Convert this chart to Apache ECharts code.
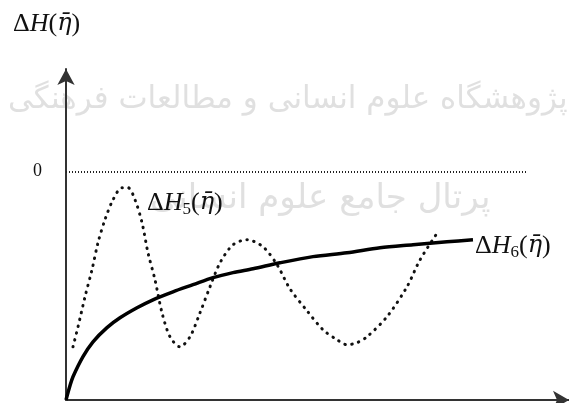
<!DOCTYPE html>
<html>
<head>
<meta charset="utf-8">
<script src="https://cdn.jsdelivr.net/npm/echarts@6/dist/echarts.min.js"></script>
<style>
    html, body { margin: 0; padding: 0; background: #fff; }
    #chart { width: 569px; height: 403px; }
</style>
</head>
<body>
<div id="chart"></div>
<script>
// ΔH5 点线（振荡曲线）
const h5Data = [
    [1.39, -76.7], [2.39, -67.9], [3.78, -54.8], [5.17, -42.9], [6.36, -31.1],
    [7.75, -21.0], [9.34, -12.3], [11.13, -7.0], [12.33, -7.0], [13.72, -12.3],
    [15.11, -22.3], [16.3, -35.5], [17.69, -47.3], [19.09, -61.8], [20.68, -72.3],
    [22.66, -76.7], [24.65, -72.3], [26.64, -61.8], [28.63, -50.4], [30.62, -39.9],
    [33.2, -32.0], [35.98, -29.8], [39.17, -32.9], [41.95, -40.7], [44.53, -51.3],
    [47.91, -60.9], [51.09, -69.2], [53.88, -73.6], [55.86, -75.8], [57.85, -74.9],
    [59.84, -72.3], [63.82, -63.5], [67.79, -50.4], [70.38, -38.6], [73.96, -26.3]
];
// ΔH6 实线
const h6Data = [
    [0, -100], [0.8, -93.7], [1.39, -89.8], [3.38, -81.0], [5.37, -74.5],
    [8.15, -68.3], [10.74, -64.0], [14.12, -59.6], [17.3, -56.1], [21.27, -52.6],
    [25.25, -49.5], [29.22, -46.4], [33.2, -44.2], [37.18, -42.5], [42.54, -39.9],
    [49.11, -37.2], [55.86, -35.5], [62.43, -33.3], [68.99, -32.0], [75.75, -30.7],
    [80.91, -29.8]
];
const zeroLineEnd = 91.6;
const h5LabelAt = [16.1, -13.6];
const watermark1 = 'پژوهشگاه علوم انسانی و مطالعات فرهنگی';
const watermark2 = 'پرتال جامع علوم انسانی';

const serif = '"Liberation Serif", "DejaVu Serif", serif';
// 公式文字样式
const rich = {
    d: { fontFamily: serif, fontSize: 26, fontWeight: 'normal', color: '#111' },
    i: { fontFamily: serif, fontSize: 26, fontWeight: 'normal', fontStyle: 'italic', color: '#111' },
    e: { fontFamily: '"DejaVu Serif", serif', fontSize: 24, fontWeight: 'normal', fontStyle: 'italic', color: '#111' },
    s: { fontFamily: serif, fontSize: 17, fontWeight: 'normal', color: '#111', padding: [14, 0, 0, 0] },
    p: { fontFamily: serif, fontSize: 26, fontWeight: 'normal', color: '#111' }
};
function formula(sub) {
    return '{d|Δ}{i|H}' + (sub ? '{s|' + sub + '}' : '') + '{p|(}{e|η\u0304}{p|)}';
}

const chart = echarts.init(document.getElementById('chart'));
const option = {
    animation: false,
    backgroundColor: '#fff',
    title: {
        text: formula(''),
        left: 8,
        top: 6,
        textStyle: { fontWeight: 'normal', rich: rich }
    },
    grid: { left: 66, right: 0, top: 69, bottom: 3 },
    xAxis: {
        type: 'value',
        min: 0,
        max: 100,
        axisLine: {
            show: true,
            onZero: false,
            symbol: ['none', 'arrow'],
            symbolSize: [14, 16],
            lineStyle: { color: '#333', width: 2 }
        },
        axisTick: { show: false },
        axisLabel: { show: false },
        splitLine: { show: false }
    },
    yAxis: {
        type: 'value',
        min: -100,
        max: 45,
        interval: 5,
        axisLine: {
            show: true,
            onZero: false,
            symbol: ['none', 'arrow'],
            symbolSize: [13, 16],
            lineStyle: { color: '#333', width: 2 }
        },
        axisTick: { show: false },
        splitLine: { show: false },
        axisLabel: {
            margin: 24,
            fontFamily: serif,
            fontSize: 18,
            color: '#111',
            formatter: (v) => (v === 0 ? '0' : '')
        }
    },
    graphic: [
        {
            type: 'text',
            left: 8,
            top: 84,
            silent: true,
            z: -1,
            style: {
                text: watermark1,
                font: '31px "DejaVu Sans", sans-serif',
                fill: '#e0e0e0'
            }
        },
        {
            type: 'text',
            left: 150,
            top: 182,
            silent: true,
            z: -1,
            style: {
                text: watermark2,
                font: '34px "DejaVu Sans", sans-serif',
                fill: '#e0e0e0'
            }
        }
    ],
    series: [
        {
            name: 'ΔH5',
            type: 'line',
            data: h5Data,
            smooth: 0.3,
            showSymbol: false,
            lineStyle: { color: '#111', width: 3, type: [0.5, 6.5], cap: 'round' },
            markLine: {
                silent: true,
                symbol: 'none',
                label: { show: false },
                lineStyle: { color: '#222', width: 2, type: [1, 2] },
                data: [[{ coord: [0, 0] }, { coord: [zeroLineEnd, 0] }]]
            },
            markPoint: {
                silent: true,
                symbol: 'circle',
                symbolSize: 0,
                label: {
                    show: true,
                    position: 'right',
                    distance: 0,
                    formatter: formula('5'),
                    rich: rich
                },
                data: [{ coord: h5LabelAt }]
            }
        },
        {
            name: 'ΔH6',
            type: 'line',
            data: h6Data,
            smooth: 0.3,
            showSymbol: false,
            lineStyle: { color: '#000', width: 3.5 },
            endLabel: {
                show: true,
                distance: 2,
                offset: [0, 6],
                formatter: formula('6'),
                rich: rich
            }
        }
    ]
};
chart.setOption(option);
</script>
</body>
</html>
